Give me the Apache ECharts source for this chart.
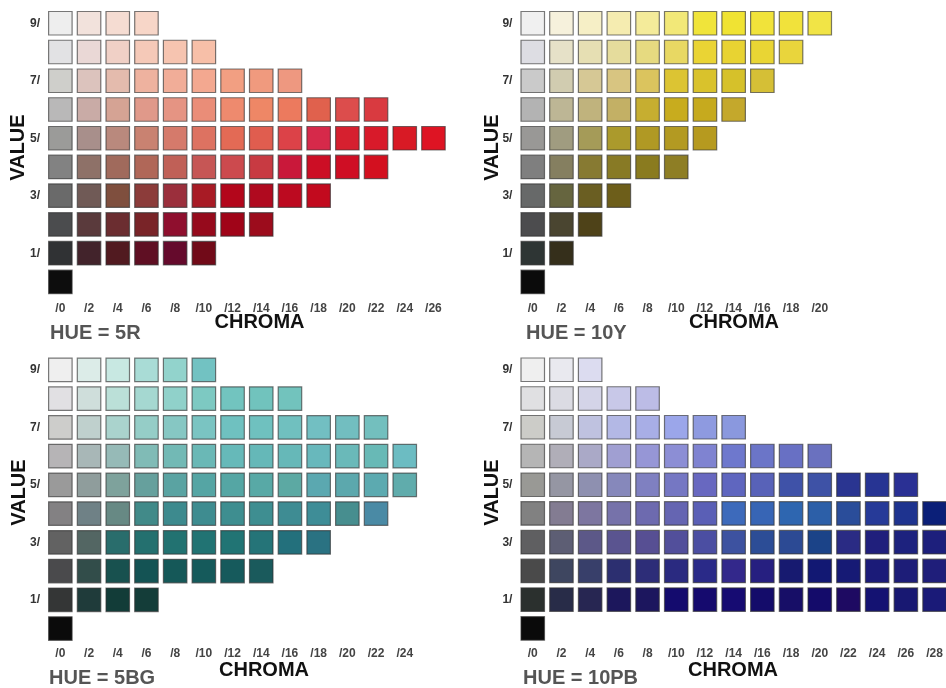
<!DOCTYPE html>
<html>
<head>
<meta charset="utf-8">
<script src="https://cdn.jsdelivr.net/npm/echarts@6/dist/echarts.min.js"></script>
<style>html,body{margin:0;padding:0;background:#fff}#chart{width:946px;height:688px}</style>
</head>
<body>
<div id="chart"></div>
<script>
// Munsell value levels (category axis order: 0 at bottom)
const valueLevels = ['0','1','2','3','4','5','6','7','8','9'];

// Chroma tick labels per hue page
const chroma5R  = ['/0','/2','/4','/6','/8','/10','/12','/14','/16','/18','/20','/22','/24','/26'];
const chroma10Y = ['/0','/2','/4','/6','/8','/10','/12','/14','/16','/18','/20'];
const chroma5BG = ['/0','/2','/4','/6','/8','/10','/12','/14','/16','/18','/20','/22','/24'];
const chroma10PB= ['/0','/2','/4','/6','/8','/10','/12','/14','/16','/18','/20','/22','/24','/26','/28'];

// Chip colours, one row per value from 9/ down to 0/ (index in row = chroma/2)
const chips5R = [
  ['#eeeeee','#f2e2dc','#f5dcd2','#f7d6c8'],
  ['#e2e2e4','#ead8d6','#f0d0c6','#f5c9b8','#f6c4b0','#f7bfa8'],
  ['#cfcfcb','#dcc3bd','#e4bbad','#eeb29f','#f1ad98','#f3a890','#f29f82','#f09a7e','#ee9880'],
  ['#b9b8b8','#c9aba6','#d5a394','#e0998a','#e59483','#ea8d78','#ee8a6e','#ee8766','#ec7a5e','#e0614d','#dc4d4c','#d93a40'],
  ['#9b9b99','#a88f8b','#b9897d','#c98271','#d57a6b','#dd7261','#e36a55','#e05d4f','#dc4248','#d6294a','#d6202f','#d81a2a','#d81a25','#de1423'],
  ['#828282','#8e7168','#a06a5c','#b06758','#c06057','#c65655','#cc4a4e','#c83a42','#c9183a','#cc0e25','#cf0e24','#d3101f'],
  ['#6a6a6a','#705a56','#7f4f3e','#8c3c3a','#9b2f3c','#a81b25','#b3061b','#b00a1f','#bc0a20','#c20a1e'],
  ['#4b4c4e','#5a3a3c','#6b2d30','#792428','#8f0f2e','#960a1c','#a00418','#9c0c1c'],
  ['#303234','#42232b','#511a20','#5f0f23','#650a2c','#710a18'],
  ['#0d0d0d']
];
const chips10Y = [
  ['#f0f0f0','#f6f1dc','#f6efc6','#f5ecb0','#f4eb9a','#f2e878','#f0e43a','#f0e333','#f1e33a','#f1e23b','#f1e446'],
  ['#dddde3','#e6e1c8','#e6dfb3','#e5dc9c','#e6da80','#e8d863','#ead434','#e8d332','#e9d534','#e9d53c'],
  ['#cacaca','#d1ccb0','#d6c895','#d8c581','#dbc45e','#dcc433','#d9c22c','#d6c12a','#d5bf36'],
  ['#b3b3b3','#bdb695','#c0b37d','#c3b065','#c6ae30','#c8ac1e','#c6aa1e','#c4a82c'],
  ['#999896','#a09c80','#a59b58','#ab9a2c','#b09924','#b39a22','#b69a1f'],
  ['#7f7f7f','#857f60','#877a32','#887a25','#8a7b1f','#8e7e25'],
  ['#676969','#66653f','#6a5e22','#6d5e1a'],
  ['#4c4c4e','#4a4530','#4e4218'],
  ['#2e3534','#352f1b'],
  ['#0b0b0b']
];
const chips5BG = [
  ['#efefef','#dcece8','#c8e8e2','#a9dcd6','#92d3cc','#72c2c2'],
  ['#e1e0e3','#cfdedb','#bbe0d8','#a5d8d1','#90d1ca','#7dc9c2','#72c4bf','#71c3bd','#72c3bd'],
  ['#cdcdcb','#bfd0cd','#aad3cd','#95cdc7','#86c7c3','#7ac4c2','#6fc1c0','#6fc1bf','#70c0bf','#72bfc2','#72bec0','#73bfbe'],
  ['#b6b4b6','#a8b7b7','#96bab7','#80bbb6','#72b9b5','#6ab8b6','#66b9b9','#65b8b8','#66b8b8','#68b8bc','#6ab9b9','#68b9b6','#6cbcc2'],
  ['#9a9a9a','#8f9d9c','#7ea29c','#66a09d','#5aa3a2','#55a5a4','#55a6a4','#58a9a6','#5ca9a3','#5ba8b0','#5ca8ad','#5caab0','#60acac'],
  ['#838183','#6f8186','#678984','#418a89','#3d8a8e','#3e8c90','#3e8e90','#3e8e91','#3e8c93','#3e8d97','#478e8f','#4a8aa5'],
  ['#626262','#536663','#296d6c','#24706f','#227271','#217373','#217474','#257478','#23707c','#2a7282'],
  ['#4a4a4c','#324d4a','#18514f','#145354','#155858','#155a5b','#165a5c','#1a5a5c'],
  ['#343636','#1f3b3a','#123c38','#143d39'],
  ['#0b0b0b']
];
const chips10PB = [
  ['#efefef','#e9e9ef','#dcdcf0'],
  ['#e0e0e2','#dbdbe3','#d4d4e8','#c8c8e8','#bcbce6'],
  ['#ccccc8','#c7cad4','#bfc2e0','#b3b8e5','#a8aee6','#9ba6ea','#8e9ae0','#8a98de'],
  ['#b5b5b5','#b0aeb8','#aaa9c7','#a09fd2','#9696d6','#8c8ed5','#7f83d1','#6e78cd','#6b75c8','#6870c4','#6a71bf'],
  ['#999995','#9596a3','#8e90b0','#8688bb','#7f80c1','#7577c3','#6868c0','#5f66bf','#5862b8','#3f52a8','#3e52a6','#2a3591','#273493','#2a3094'],
  ['#818181','#837c92','#7d76a0','#7672aa','#6d6aaf','#6565b2','#5a5fb6','#3d6abb','#3765b5','#2e66b0','#2c5fa8','#2a4d9a','#263a98','#1e338f','#0b1f78'],
  ['#5f5f61','#5d5e74','#5c5888','#5a5490','#574f93','#524f9b','#4b4ea2','#3d52a0','#2c4d96','#2c4a94','#1b4388','#2a2b84','#201f7c','#1d227e','#1d1f7c'],
  ['#4a4a4a','#3e4660','#383f6a','#2c2f70','#2d2d78','#2a2a80','#2a2a88','#33288b','#261f80','#171a70','#121873','#161a75','#1b1b78','#1d1d78','#1f1e7a'],
  ['#2b302e','#282c48','#272652','#1c175c','#1c165e','#140b6e','#150a6e','#160b72','#140c6a','#170e67','#140b6a','#1e0a62','#141272','#181872','#1a1a78'],
  ['#0a0a0a']
];

const hueNames = ['HUE = 5R','HUE = 10Y','HUE = 5BG','HUE = 10PB'];

const panels = [
  {chroma: chroma5R,  chips: chips5R},
  {chroma: chroma10Y, chips: chips10Y},
  {chroma: chroma5BG, chips: chips5BG},
  {chroma: chroma10PB,chips: chips10PB}
];

const band = 28.7;
const gridPos = [
  {left: 46,    top: 8.9},
  {left: 518.4, top: 8.9},
  {left: 46,    top: 355.5},
  {left: 518.4, top: 355.4}
];

const FONT = '"Liberation Sans", Arial, Helvetica, sans-serif';

const grid = [], xAxis = [], yAxis = [], series = [];
panels.forEach((p, i) => {
  grid.push({
    left: gridPos[i].left, top: gridPos[i].top,
    width: band * p.chroma.length, height: 28.74 * valueLevels.length,
    outerBoundsMode: 'none', containLabel: false
  });
  xAxis.push({
    type: 'category', gridIndex: i, data: p.chroma,
    axisLine: {show: false}, axisTick: {show: false}, splitLine: {show: false},
    axisLabel: {interval: 0, margin: i < 2 ? 6 : 5, fontFamily: FONT, fontWeight: 'bold', fontSize: 12, color: '#444'}
  });
  yAxis.push({
    type: 'category', gridIndex: i, data: valueLevels,
    axisLine: {show: false}, axisTick: {show: false}, splitLine: {show: false},
    axisLabel: {
      interval: 0, margin: 6, fontFamily: FONT, fontWeight: 'bold', fontSize: 12, color: '#333',
      formatter: v => (Number(v) % 2 === 1 ? v + '/' : '')
    }
  });
  const data = [];
  p.chips.forEach((row, r) => {
    const v = 9 - r;
    row.forEach((col, c) => {
      data.push({value: [c, v], itemStyle: {color: col}});
    });
  });
  series.push({
    type: 'scatter', xAxisIndex: i, yAxisIndex: i, data: data,
    symbol: 'rect', symbolSize: 23.5, silent: true,
    itemStyle: {borderColor: 'rgba(50,50,50,0.65)', borderWidth: 1.2, opacity: 1},
    emphasis: {disabled: true}
  });
});

const textBase = (t, x, y, extra) => Object.assign({
  type: 'text', x: x, y: y, silent: true,
  style: Object.assign({text: t, font: 'bold 20px ' + FONT, fill: '#111', align: 'center', verticalAlign: 'middle'}, extra || {})
});

const graphic = [
  textBase('VALUE', 18.5, 147.5), textBase('VALUE', 492, 147.5),
  textBase('VALUE', 19, 492.5),   textBase('VALUE', 492, 492.5),
  textBase('CHROMA', 259.5, 322), textBase('CHROMA', 734, 322),
  textBase('CHROMA', 264, 670),   textBase('CHROMA', 733, 670),
  textBase(hueNames[0], 50, 333.5, {align: 'left', fill: '#555'}),
  textBase(hueNames[1], 526, 333.5, {align: 'left', fill: '#555'}),
  textBase(hueNames[2], 49, 678, {align: 'left', fill: '#555'}),
  textBase(hueNames[3], 523, 678, {align: 'left', fill: '#555'})
];
graphic.slice(0, 4).forEach(g => { g.rotation = Math.PI / 2; });

const chart = echarts.init(document.getElementById('chart'), null, {renderer: 'canvas'});
chart.setOption({
  backgroundColor: '#ffffff',
  animation: false,
  grid, xAxis, yAxis, series, graphic
});
</script>
</body>
</html>
